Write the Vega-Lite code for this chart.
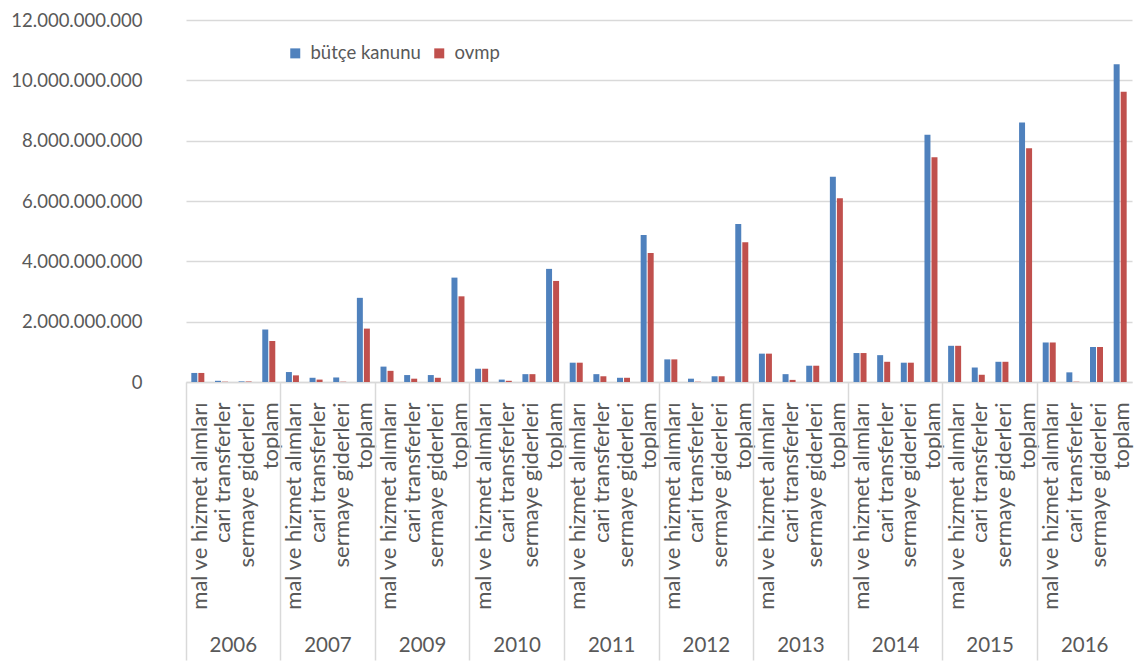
{
  "$schema": "https://vega.github.io/schema/vega-lite/v6.json",
  "autosize": "none",
  "width": 946,
  "height": 362,
  "padding": {"left": 186, "top": 20, "right": 6, "bottom": 280},
  "background": "white",
  "config": {
    "locale": {"number": {"decimal": ",", "thousands": ".", "grouping": [3], "currency": ["", ""]}},
    "font": "Lato",
    "view": {"stroke": null},
    "axis": {"labelColor": "#595959", "labelFont": "Lato"}
  },
  "data": {
    "values": [
      {"year": "2006", "category": "mal ve hizmet alımları", "series": "bütçe kanunu", "value": 300000000},
      {"year": "2006", "category": "mal ve hizmet alımları", "series": "ovmp", "value": 300000000},
      {"year": "2006", "category": "cari transferler", "series": "bütçe kanunu", "value": 40000000},
      {"year": "2006", "category": "cari transferler", "series": "ovmp", "value": 10000000},
      {"year": "2006", "category": "sermaye giderleri", "series": "bütçe kanunu", "value": 20000000},
      {"year": "2006", "category": "sermaye giderleri", "series": "ovmp", "value": 20000000},
      {"year": "2006", "category": "toplam", "series": "bütçe kanunu", "value": 1740000000},
      {"year": "2006", "category": "toplam", "series": "ovmp", "value": 1360000000},
      {"year": "2007", "category": "mal ve hizmet alımları", "series": "bütçe kanunu", "value": 330000000},
      {"year": "2007", "category": "mal ve hizmet alımları", "series": "ovmp", "value": 220000000},
      {"year": "2007", "category": "cari transferler", "series": "bütçe kanunu", "value": 140000000},
      {"year": "2007", "category": "cari transferler", "series": "ovmp", "value": 80000000},
      {"year": "2007", "category": "sermaye giderleri", "series": "bütçe kanunu", "value": 150000000},
      {"year": "2007", "category": "sermaye giderleri", "series": "ovmp", "value": 10000000},
      {"year": "2007", "category": "toplam", "series": "bütçe kanunu", "value": 2790000000},
      {"year": "2007", "category": "toplam", "series": "ovmp", "value": 1770000000},
      {"year": "2009", "category": "mal ve hizmet alımları", "series": "bütçe kanunu", "value": 510000000},
      {"year": "2009", "category": "mal ve hizmet alımları", "series": "ovmp", "value": 370000000},
      {"year": "2009", "category": "cari transferler", "series": "bütçe kanunu", "value": 230000000},
      {"year": "2009", "category": "cari transferler", "series": "ovmp", "value": 110000000},
      {"year": "2009", "category": "sermaye giderleri", "series": "bütçe kanunu", "value": 230000000},
      {"year": "2009", "category": "sermaye giderleri", "series": "ovmp", "value": 140000000},
      {"year": "2009", "category": "toplam", "series": "bütçe kanunu", "value": 3460000000},
      {"year": "2009", "category": "toplam", "series": "ovmp", "value": 2840000000},
      {"year": "2010", "category": "mal ve hizmet alımları", "series": "bütçe kanunu", "value": 440000000},
      {"year": "2010", "category": "mal ve hizmet alımları", "series": "ovmp", "value": 440000000},
      {"year": "2010", "category": "cari transferler", "series": "bütçe kanunu", "value": 80000000},
      {"year": "2010", "category": "cari transferler", "series": "ovmp", "value": 40000000},
      {"year": "2010", "category": "sermaye giderleri", "series": "bütçe kanunu", "value": 260000000},
      {"year": "2010", "category": "sermaye giderleri", "series": "ovmp", "value": 260000000},
      {"year": "2010", "category": "toplam", "series": "bütçe kanunu", "value": 3750000000},
      {"year": "2010", "category": "toplam", "series": "ovmp", "value": 3350000000},
      {"year": "2011", "category": "mal ve hizmet alımları", "series": "bütçe kanunu", "value": 640000000},
      {"year": "2011", "category": "mal ve hizmet alımları", "series": "ovmp", "value": 640000000},
      {"year": "2011", "category": "cari transferler", "series": "bütçe kanunu", "value": 260000000},
      {"year": "2011", "category": "cari transferler", "series": "ovmp", "value": 190000000},
      {"year": "2011", "category": "sermaye giderleri", "series": "bütçe kanunu", "value": 140000000},
      {"year": "2011", "category": "sermaye giderleri", "series": "ovmp", "value": 140000000},
      {"year": "2011", "category": "toplam", "series": "bütçe kanunu", "value": 4870000000},
      {"year": "2011", "category": "toplam", "series": "ovmp", "value": 4280000000},
      {"year": "2012", "category": "mal ve hizmet alımları", "series": "bütçe kanunu", "value": 750000000},
      {"year": "2012", "category": "mal ve hizmet alımları", "series": "ovmp", "value": 750000000},
      {"year": "2012", "category": "cari transferler", "series": "bütçe kanunu", "value": 110000000},
      {"year": "2012", "category": "cari transferler", "series": "ovmp", "value": 5000000},
      {"year": "2012", "category": "sermaye giderleri", "series": "bütçe kanunu", "value": 190000000},
      {"year": "2012", "category": "sermaye giderleri", "series": "ovmp", "value": 190000000},
      {"year": "2012", "category": "toplam", "series": "bütçe kanunu", "value": 5240000000},
      {"year": "2012", "category": "toplam", "series": "ovmp", "value": 4630000000},
      {"year": "2013", "category": "mal ve hizmet alımları", "series": "bütçe kanunu", "value": 940000000},
      {"year": "2013", "category": "mal ve hizmet alımları", "series": "ovmp", "value": 940000000},
      {"year": "2013", "category": "cari transferler", "series": "bütçe kanunu", "value": 260000000},
      {"year": "2013", "category": "cari transferler", "series": "ovmp", "value": 70000000},
      {"year": "2013", "category": "sermaye giderleri", "series": "bütçe kanunu", "value": 540000000},
      {"year": "2013", "category": "sermaye giderleri", "series": "ovmp", "value": 540000000},
      {"year": "2013", "category": "toplam", "series": "bütçe kanunu", "value": 6800000000},
      {"year": "2013", "category": "toplam", "series": "ovmp", "value": 6090000000},
      {"year": "2014", "category": "mal ve hizmet alımları", "series": "bütçe kanunu", "value": 960000000},
      {"year": "2014", "category": "mal ve hizmet alımları", "series": "ovmp", "value": 960000000},
      {"year": "2014", "category": "cari transferler", "series": "bütçe kanunu", "value": 890000000},
      {"year": "2014", "category": "cari transferler", "series": "ovmp", "value": 670000000},
      {"year": "2014", "category": "sermaye giderleri", "series": "bütçe kanunu", "value": 640000000},
      {"year": "2014", "category": "sermaye giderleri", "series": "ovmp", "value": 640000000},
      {"year": "2014", "category": "toplam", "series": "bütçe kanunu", "value": 8200000000},
      {"year": "2014", "category": "toplam", "series": "ovmp", "value": 7450000000},
      {"year": "2015", "category": "mal ve hizmet alımları", "series": "bütçe kanunu", "value": 1200000000},
      {"year": "2015", "category": "mal ve hizmet alımları", "series": "ovmp", "value": 1200000000},
      {"year": "2015", "category": "cari transferler", "series": "bütçe kanunu", "value": 480000000},
      {"year": "2015", "category": "cari transferler", "series": "ovmp", "value": 240000000},
      {"year": "2015", "category": "sermaye giderleri", "series": "bütçe kanunu", "value": 670000000},
      {"year": "2015", "category": "sermaye giderleri", "series": "ovmp", "value": 670000000},
      {"year": "2015", "category": "toplam", "series": "bütçe kanunu", "value": 8600000000},
      {"year": "2015", "category": "toplam", "series": "ovmp", "value": 7750000000},
      {"year": "2016", "category": "mal ve hizmet alımları", "series": "bütçe kanunu", "value": 1310000000},
      {"year": "2016", "category": "mal ve hizmet alımları", "series": "ovmp", "value": 1310000000},
      {"year": "2016", "category": "cari transferler", "series": "bütçe kanunu", "value": 320000000},
      {"year": "2016", "category": "cari transferler", "series": "ovmp", "value": 10000000},
      {"year": "2016", "category": "sermaye giderleri", "series": "bütçe kanunu", "value": 1160000000},
      {"year": "2016", "category": "sermaye giderleri", "series": "ovmp", "value": 1160000000},
      {"year": "2016", "category": "toplam", "series": "bütçe kanunu", "value": 10530000000},
      {"year": "2016", "category": "toplam", "series": "ovmp", "value": 9620000000}
    ]
  },
  "transform": [{"calculate": "datum.year + '|' + datum.category", "as": "key"}],
  "layer": [
    {
      "mark": {"type": "bar"},
      "encoding": {
        "x": {
          "field": "key", "type": "nominal", "sort": null,
          "scale": {"paddingInner": 0.45, "paddingOuter": 0.225},
          "axis": {
            "orient": "bottom",
            "title": null, "labelAngle": -90, "labelAlign": "right", "labelBaseline": "middle",
            "labelExpr": "split(datum.value, '|')[1]", "ticks": false, "domain": true,
            "domainColor": "#d9d9d9", "domainWidth": 1.5, "labelPadding": 20, "labelOffset": 2,
            "labelFontSize": 22, "labelColor": "#595959", "labelOverlap": false, "labelLimit": 400, "grid": false
          }
        },
        "xOffset": {"field": "series", "type": "nominal", "sort": ["bütçe kanunu", "ovmp"], "scale": {"paddingInner": 0.15}},
        "y": {
          "field": "value", "type": "quantitative",
          "scale": {"domain": [0, 12000000000]},
          "axis": {
            "title": null, "values": [0, 2000000000, 4000000000, 6000000000, 8000000000, 10000000000, 12000000000],
            "format": ",.0f", "domain": false, "ticks": false, "grid": true, "gridColor": "#d9d9d9", "gridWidth": 1.5,
            "labelPadding": 44, "labelFontSize": 18.5, "labelColor": "#595959"
          }
        },
        "color": {
          "field": "series", "type": "nominal",
          "scale": {"domain": ["bütçe kanunu", "ovmp"], "range": ["#4f81bd", "#c0504d"]},
          "legend": {
            "title": null, "orient": "none", "legendX": 100, "legendY": 24, "direction": "horizontal",
            "symbolType": "square", "symbolSize": 100, "symbolStrokeWidth": 0, "labelFontSize": 18.5,
            "labelColor": "#595959", "labelFont": "Lato", "columnPadding": 9, "labelOffset": 6, "padding": 0
          }
        }
      }
    },
    {
      "mark": {"type": "bar", "opacity": 0},
      "encoding": {
        "x": {
          "field": "key", "type": "nominal", "sort": null,
          "axis": {
            "orient": "bottom",
            "title": null,
            "values": ["2006|mal ve hizmet alımları", "2007|mal ve hizmet alımları", "2009|mal ve hizmet alımları", "2010|mal ve hizmet alımları", "2011|mal ve hizmet alımları", "2012|mal ve hizmet alımları", "2013|mal ve hizmet alımları", "2014|mal ve hizmet alımları", "2015|mal ve hizmet alımları", "2016|mal ve hizmet alımları"],
            "bandPosition": -0.40909, "domain": false, "ticks": true, "tickSize": 278, "tickColor": "#d9d9d9", "tickWidth": 1.5,
            "labelExpr": "split(datum.value, '|')[0]", "labelOffset": 35.5, "labelPadding": -15, "labelBaseline": "middle",
            "labelAngle": 0, "labelAlign": "center", "labelFontSize": 20.5, "labelColor": "#595959", "grid": false, "labelOverlap": false
          }
        },
        "y": {"field": "value", "type": "quantitative"}
      }
    }
  ],
  "resolve": {"axis": {"x": "independent"}}
}
